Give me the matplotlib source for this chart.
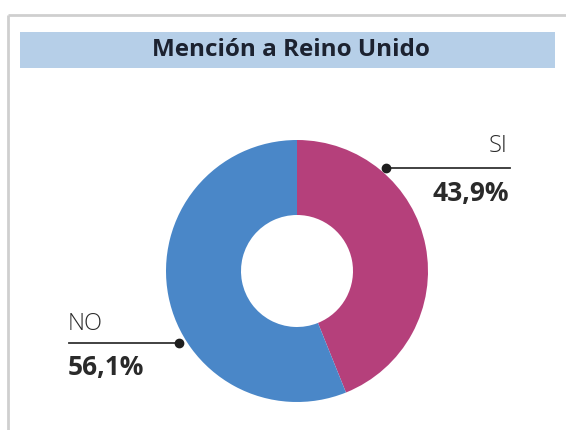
import matplotlib.pyplot as plt
from matplotlib.patches import Rectangle

# data
labels = ['SI', 'NO']
values = [43.9, 56.1]
value_labels = ['43,9%', '56,1%']
colors = ['#b5407b', '#4a87c8']
title = 'Mención a Reino Unido'

W, H = 566, 430
plt.rcParams['font.family'] = ['Open Sans', 'DejaVu Sans']

fig = plt.figure(figsize=(W / 100, H / 100), dpi=100)
ax = fig.add_axes([0, 0, 1, 1])

# card outline (top + left edges visible)
ax.plot([8, W], [H - 15, H - 15], color='#cfcfcf', lw=2, solid_capstyle='butt')
ax.plot([8, 8], [0, H - 15], color='#cfcfcf', lw=2, solid_capstyle='butt')

# title band
ax.add_patch(Rectangle((20, H - 68), 535, 36, facecolor='#b6cfe8', edgecolor='none'))
ax.text(291, H - 50, title, ha='center', va='center', fontsize=17.5,
        fontweight='bold', color='#1c2230')

# donut
cx, cy, r = 297, H - 271, 131
ax.pie(values, colors=colors, startangle=90, counterclock=False,
       center=(cx, cy), radius=r, frame=True,
       wedgeprops=dict(width=r - 56, edgecolor='none'))

# SI callout
ax.plot([386, 510], [H - 168, H - 168], color='#333333', lw=1.3)
ax.plot(386, H - 168, 'o', color='#1e1e1e', ms=6)
ax.text(508, H - 146, labels[0], ha='right', va='center', fontsize=17,
        fontweight='light', color='#2a2a2a')
ax.text(509, H - 193, value_labels[0], ha='right', va='center', fontsize=19,
        fontweight='bold', color='#2a2a2a')

# NO callout
ax.plot([69, 179], [H - 343, H - 343], color='#333333', lw=1.3)
ax.plot(179, H - 343, 'o', color='#1e1e1e', ms=6)
ax.text(68, H - 324, labels[1], ha='left', va='center', fontsize=17,
        fontweight='light', color='#2a2a2a')
ax.text(68, H - 367, value_labels[1], ha='left', va='center', fontsize=19,
        fontweight='bold', color='#2a2a2a')

ax.set_xlim(0, W)
ax.set_ylim(0, H)
ax.set_aspect('auto')
ax.axis('off')

fig.savefig('out.png', dpi=100, facecolor='white')
